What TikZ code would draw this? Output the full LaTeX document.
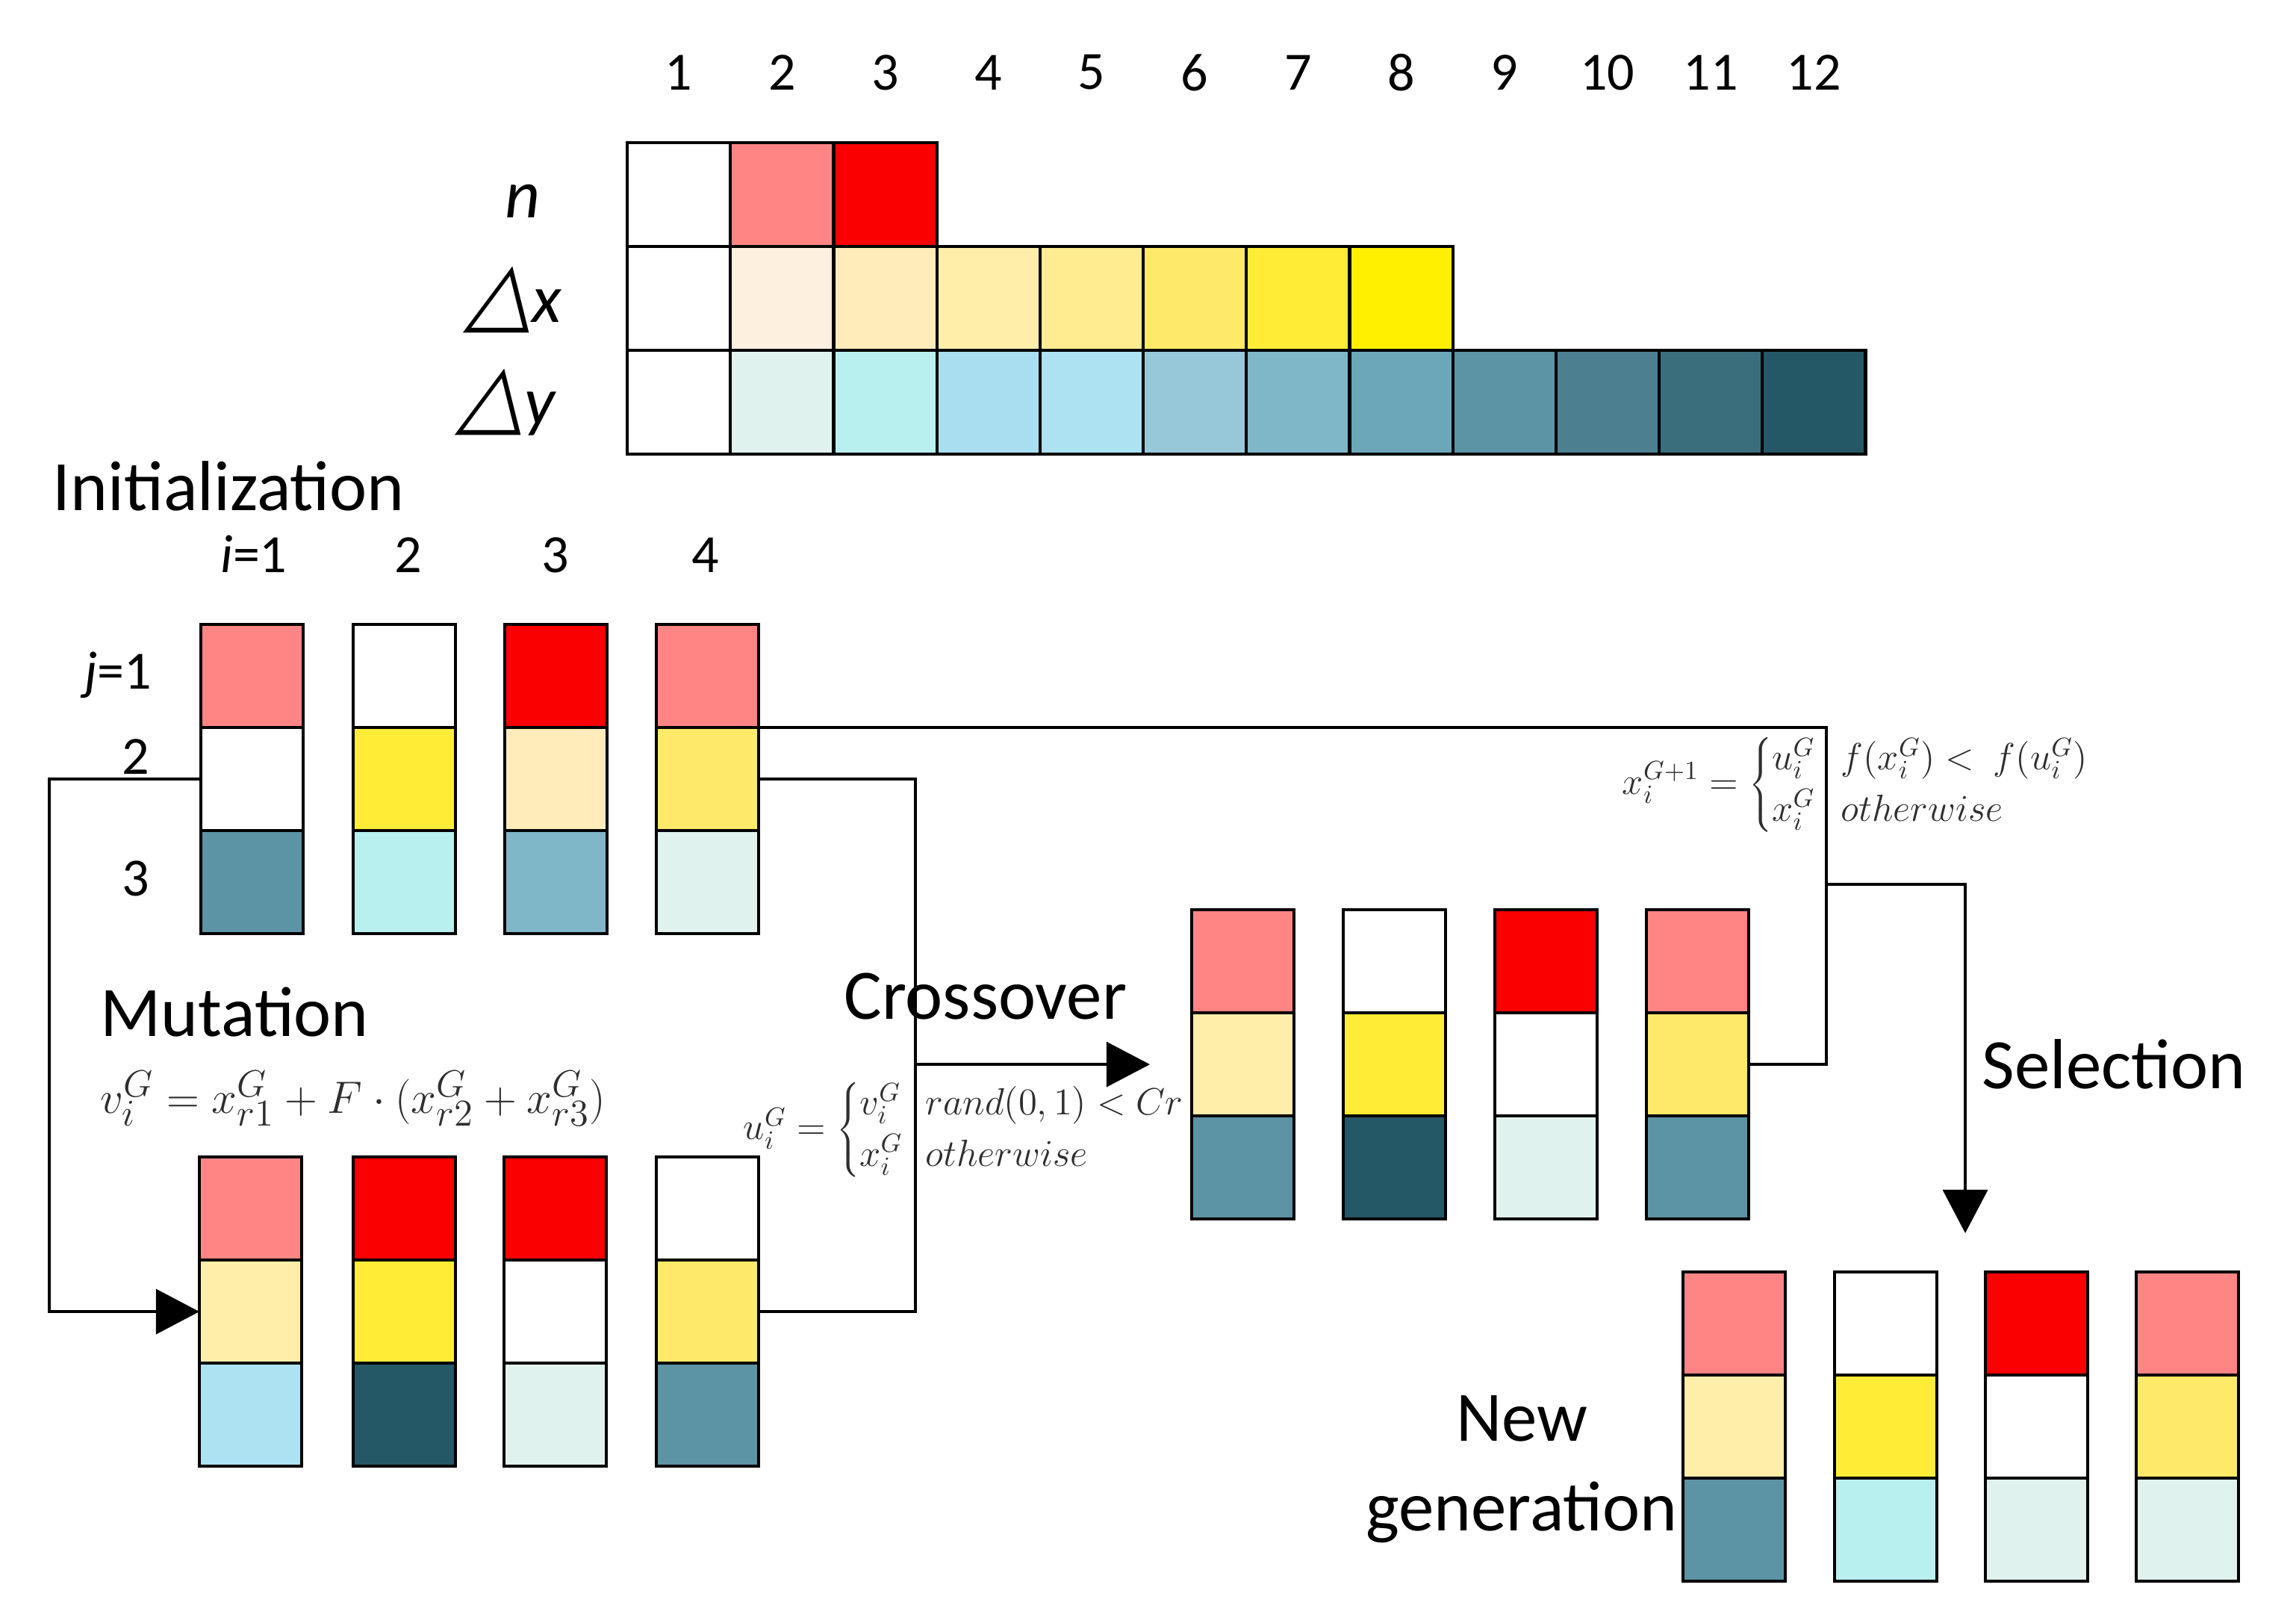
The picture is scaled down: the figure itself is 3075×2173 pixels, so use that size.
\documentclass[tikz,border=0pt]{standalone}
\usepackage[no-math]{fontspec}
\setmainfont{Carlito}
\newfontfamily\dejavuslant{DejaVu Sans}[FakeSlant=0.25]
\usetikzlibrary{arrows.meta}
\definecolor{pinkc}{RGB}{255,133,133}
\definecolor{redc}{RGB}{250,0,0}
\definecolor{dxb}{RGB}{253,240,222}
\definecolor{dxc}{RGB}{255,236,186}
\definecolor{dxd}{RGB}{255,238,170}
\definecolor{dxe}{RGB}{255,236,145}
\definecolor{dxf}{RGB}{255,233,105}
\definecolor{dxg}{RGB}{255,236,55}
\definecolor{dxh}{RGB}{255,240,0}
\definecolor{dyb}{RGB}{224,242,238}
\definecolor{dyc}{RGB}{184,240,240}
\definecolor{dyd}{RGB}{168,222,240}
\definecolor{dye}{RGB}{172,226,242}
\definecolor{dyf}{RGB}{150,200,218}
\definecolor{dyg}{RGB}{128,183,200}
\definecolor{dyh}{RGB}{108,167,185}
\definecolor{dyi}{RGB}{92,148,165}
\definecolor{dyj}{RGB}{76,128,145}
\definecolor{dyk}{RGB}{58,110,125}
\definecolor{dyl}{RGB}{36,88,102}
\newcommand\chrom[6]{%
  \node[cell,fill=#4,anchor=north west] (#1a) at (#2,#3) {};
  \node[cell,fill=#5,anchor=north] (#1b) at (#1a.south) {};
  \node[cell,fill=#6,anchor=north] (#1c) at (#1b.south) {};
}
\begin{document}
\begin{tikzpicture}[x=0.01cm,y=-0.01cm,
  cell/.style={draw=black,line width=1.2pt,inner sep=0pt,outer sep=0pt,minimum width=1.37cm,minimum height=1.38cm},
  tcell/.style={draw=black,line width=1.2pt,inner sep=0pt,outer sep=0pt,minimum width=1.382cm,minimum height=1.39cm,anchor=north west},
  conn/.style={line width=1pt,draw=black},
  arr/.style={conn,-{Triangle[length=0.58cm,width=0.6cm]}},
  lbl/.style={inner sep=0pt,font=\fontsize{27}{34}\selectfont},
  num/.style={inner sep=0pt,font=\fontsize{20.5}{24}\selectfont},
  rlab/.style={inner sep=0pt,font=\fontsize{26}{30}\selectfont},
  fml/.style={inner sep=0pt,text=black!82,font=\fontsize{14.5}{19.5}\selectfont},
  bigfml/.style={inner sep=0pt,text=black!82,font=\fontsize{19}{23}\selectfont}]
\useasboundingbox (0,0) rectangle (3075,2173);
% ---------- coding table ----------
\foreach \k in {1,...,12}
  \node[num] (h\k) at ({840+138.2*(\k-0.5)},97) {\k};
\foreach \c [count=\k] in {white,pinkc,redc}
  \node[tcell,fill=\c] (n\k) at ({840+138.2*(\k-1)},191) {};
\foreach \c [count=\k] in {white,dxb,dxc,dxd,dxe,dxf,dxg,dxh}
  \node[tcell,fill=\c] (x\k) at ({840+138.2*(\k-1)},330) {};
\foreach \c [count=\k] in {white,dyb,dyc,dyd,dye,dyf,dyg,dyh,dyi,dyj,dyk,dyl}
  \node[tcell,fill=\c] (y\k) at ({840+138.2*(\k-1)},469) {};
\node[rlab,anchor=base] (ln) at (700,292) {\itshape n};
\node[rlab,anchor=base] (lx) at (688,432) {{\dejavuslant\fontsize{33}{36}\selectfont △}\itshape x};
\node[rlab,anchor=base] (ly) at (678,568) {{\dejavuslant\fontsize{33}{36}\selectfont △}\itshape y};
% ---------- initialization ----------
\node[lbl,anchor=base west] (tinit) at (70,683) {Initialization};
\node[num,anchor=base] (ci1) at (340,766) {\textit{i}=1};
\node[num,anchor=base] (ci2) at (547,766) {2};
\node[num,anchor=base] (ci3) at (744,766) {3};
\node[num,anchor=base] (ci4) at (945,766) {4};
\node[num,anchor=base] (rj1) at (158,922) {\textit{j}=1};
\node[num,anchor=base] (rj2) at (182,1036) {2};
\node[num,anchor=base] (rj3) at (182,1199) {3};
\chrom{I1}{269}{836}{pinkc}{white}{dyi}
\chrom{I2}{473}{836}{white}{dxg}{dyc}
\chrom{I3}{676}{836}{redc}{dxc}{dyg}
\chrom{I4}{879}{836}{pinkc}{dxf}{dyb}
% ---------- mutation ----------
\node[lbl,anchor=base west] (tmut) at (134,1387) {Mutation};
\node[bigfml] (fmut) at (473,1471) {$v_i^G = x_{r1}^G + F\cdot(x_{r2}^G + x_{r3}^G)$};
\chrom{M1}{267}{1549}{pinkc}{dxd}{dye}
\chrom{M2}{473}{1549}{redc}{dxg}{dyl}
\chrom{M3}{675}{1549}{redc}{white}{dyb}
\chrom{M4}{879}{1549}{white}{dxf}{dyi}
% ---------- crossover ----------
\node[lbl,anchor=base west] (tcross) at (1130,1364) {Crossover};
\node[fml,anchor=east] (fcl) at (1214,1513) {$u_i^G = \left\{\begin{array}{@{}l@{}} v_i^G\\ x_i^G\end{array}\right.$};
\node[fml,anchor=west] (fcr) at (1239,1513) {$\begin{array}{@{}l@{}} rand(0,1) < Cr\\ otherwise\end{array}$};
\chrom{C1}{1596}{1218}{pinkc}{dxd}{dyi}
\chrom{C2}{1799}{1218}{white}{dxg}{dyl}
\chrom{C3}{2002}{1218}{redc}{white}{dyb}
\chrom{C4}{2205}{1218}{pinkc}{dxf}{dyi}
% ---------- selection ----------
\node[fml,anchor=east] (fsl) at (2436,1051) {$x_i^{G+1} = \left\{\begin{array}{@{}l@{}} u_i^G\\ x_i^G\end{array}\right.$};
\node[fml,anchor=west] (fsr) at (2465,1051) {$\begin{array}{@{}l@{}} f(x_i^G) <\ f(u_i^G)\\ otherwise\end{array}$};
\node[lbl,anchor=base west] (tsel) at (2654,1457) {Selection};
% ---------- new generation ----------
\node[lbl,anchor=north,align=center] (tnew) at (2038,1868) {New\\generation};
\chrom{N1}{2254}{1703}{pinkc}{dxd}{dyi}
\chrom{N2}{2457}{1703}{white}{dxg}{dyc}
\chrom{N3}{2659}{1703}{redc}{white}{dyb}
\chrom{N4}{2861}{1703}{pinkc}{dxf}{dyb}
% ---------- connectors ----------
\coordinate (lx0) at (66,0);
\coordinate (rx0) at (1226,0);
\coordinate (sx0) at (2446,0);
\coordinate (sy0) at (0,1184);
\coordinate (ax0) at (2632,0);
\draw[arr] (I1b.west) -- (I1b.west -| lx0) |- (M1b.west);
\draw[conn] (I4b.east) -- (I4b.east -| rx0) |- (M4b.east);
\draw[arr,shorten >=0.56cm] (C1b.west -| rx0) -- (C1b.west);
\draw[conn] (I4a.south east) -- (I4a.south east -| sx0) |- (C4b.east);
\draw[arr,shorten >=0.52cm] (sx0 |- sy0) -| (ax0 |- N3a.north);
\end{tikzpicture}
\end{document}
